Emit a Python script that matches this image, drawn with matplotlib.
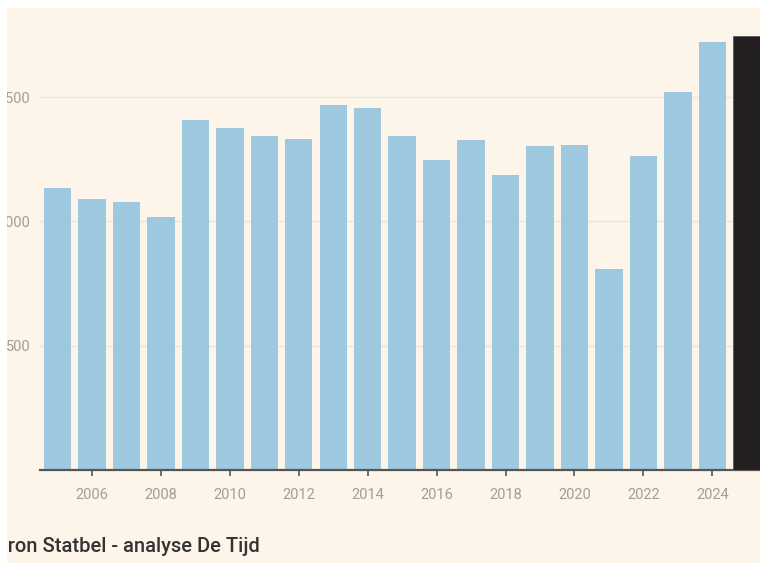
import matplotlib.pyplot as plt
from matplotlib.patches import Rectangle
from matplotlib.ticker import FixedLocator

years = list(range(2005, 2026))
values = [1133, 1091, 1079, 1018, 1407, 1376, 1344, 1333, 1467, 1456,
          1344, 1246, 1326, 1188, 1303, 1307, 807, 1262, 1521, 1723, 1746]
highlight_year = 2025
ytick_values = [500, 1000, 1500]
ytick_labels = ["500", "1.000", "1.500"]
xtick_years = list(range(2006, 2025, 2))
source = "Bron Statbel - analyse De Tijd"

bg = "#FDF5E9"
blue = "#9DC8DF"
dark = "#231F20"

W, H = 760, 563
fig = plt.figure(figsize=(W / 100, H / 100), dpi=100, facecolor=bg)

# axes in pixel terms: left 40, bottom at y=470, top at y=8, 34.46 px per year
px_year = 34.46
x0, x1 = 2004.49, 2025.5
ax = fig.add_axes([40 / W, (H - 470) / H, (x1 - x0) * px_year / W, 462 / H])
ax.set_facecolor(bg)
ax.set_xlim(x0, x1)
ax.set_ylim(0, 462 / 0.2486)

colors = [dark if y == highlight_year else blue for y in years]
bars = ax.bar(years, values, width=0.795, color=colors, zorder=2)
for b, y in zip(bars, years):
  if y == highlight_year:
    b.set_zorder(4)
    b.set_edgecolor("#5a5656")
    b.set_linewidth(0.6)

ax.yaxis.set_major_locator(FixedLocator(ytick_values))
ax.set_yticklabels(ytick_labels)
ax.set_xticks(xtick_years)
ax.set_xticklabels([str(y) for y in xtick_years])

ax.grid(axis="y", color="#EFE5D5", linewidth=1, zorder=0)
ax.set_axisbelow(True)

for s in ["top", "right", "left"]:
  ax.spines[s].set_visible(False)
ax.spines["bottom"].set_color("#555555")
ax.spines["bottom"].set_linewidth(1.6)
ax.spines["bottom"].set_zorder(3)

ax.tick_params(axis="y", length=0, pad=7, labelsize=10.5, labelcolor="#A39D95")
ax.tick_params(axis="x", length=4, width=1.2, color="#555555", pad=9,
               labelsize=10.5, labelcolor="#A39D95")
for lbl in ax.get_xticklabels() + ax.get_yticklabels():
  lbl.set_fontfamily("Roboto")

fig.text(-5 / W, (H - 552) / H, source, fontsize=14.5, fontfamily="Roboto",
         fontweight="medium", color="#333333", ha="left", va="baseline")

# white borders of the screenshot
fig.add_artist(Rectangle((0, 1 - 8 / H), 1, 8 / H, transform=fig.transFigure,
                         facecolor="white", edgecolor="none", zorder=10))
fig.add_artist(Rectangle((0, 0), 7 / W, 1, transform=fig.transFigure,
                         facecolor="white", edgecolor="none", zorder=10))

fig.savefig("out.png", dpi=100, facecolor=bg)
